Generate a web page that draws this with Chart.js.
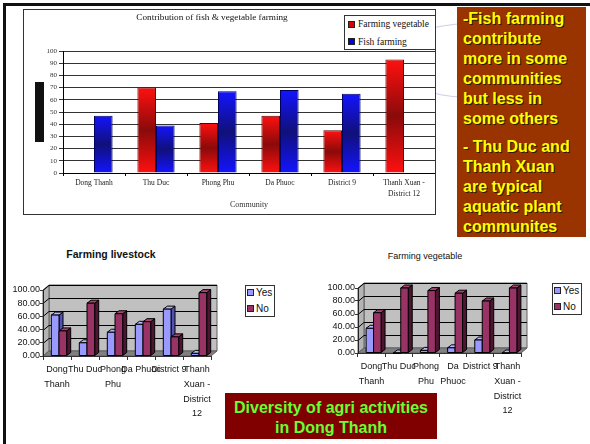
<!DOCTYPE html>
<html lang="en">
  <head>
    <meta charset="utf-8" />
    <title>Diversity of agri activities</title>
    <style>
      * {
        margin: 0;
        padding: 0;
        box-sizing: border-box;
      }
      body {
        width: 590px;
        height: 444px;
        position: relative;
        overflow: hidden;
        background: #fff;
        font-family: "Liberation Sans", Arial, sans-serif;
      }
      .frameTop {
        position: absolute;
        left: 3px;
        top: 3px;
        width: 587px;
        height: 3px;
        background: #111;
      }
      .frameLeft {
        position: absolute;
        left: 3px;
        top: 3px;
        width: 3px;
        height: 441px;
        background: #111;
      }
      .ring {
        position: absolute;
        left: 393px;
        top: 23px;
        width: 154px;
        height: 75px;
        border: 1.5px solid #cfcfe8;
        border-radius: 50%;
      }
      .chartBox {
        position: absolute;
        left: 23px;
        top: 9px;
        width: 413px;
        height: 206px;
        border: 1px solid #333;
        background: #fff;
      }
      .axisBlock {
        position: absolute;
        left: 35px;
        top: 82px;
        width: 9px;
        height: 60px;
        background: #111;
      }
      canvas {
        position: absolute;
      }
      .title {
        position: absolute;
        text-align: center;
        white-space: nowrap;
        color: #111;
      }
      #contribTitle {
        left: 112px;
        top: 12px;
        width: 200px;
        font: 9.2px "Liberation Serif", "Times New Roman", serif;
      }
      #livestockTitle {
        left: 31px;
        top: 248px;
        width: 160px;
        font: bold 10.5px "Liberation Sans", Arial, sans-serif;
      }
      #vegTitle {
        left: 345px;
        top: 251px;
        width: 160px;
        font: 9px "Liberation Sans", Arial, sans-serif;
      }
      .legend {
        position: absolute;
        background: #fff;
        border: 1px solid #333;
        color: #111;
      }
      .legend .item {
        display: flex;
        align-items: center;
        white-space: nowrap;
      }
      .legend .swatch {
        display: inline-block;
        border: 1px solid #222;
      }
      #contribLegend {
        left: 344px;
        top: 15px;
        width: 92px;
        height: 35px;
        padding-left: 3px;
        font: 9.5px "Liberation Serif", "Times New Roman", serif;
      }
      #contribLegend .item {
        height: 17px;
      }
      #contribLegend .item:first-child {
        margin-top: -1px;
        height: 18px;
      }
      #contribLegend .swatch {
        width: 7px;
        height: 7px;
        margin-right: 3px;
      }
      #livestockLegend,
      #vegLegend {
        width: 30px;
        height: 32px;
        padding-left: 1px;
        font: 10px "Liberation Sans", Arial, sans-serif;
      }
      #livestockLegend {
        left: 245px;
        top: 285px;
      }
      #vegLegend {
        left: 552px;
        top: 283px;
      }
      #livestockLegend .item,
      #vegLegend .item {
        height: 16px;
      }
      #livestockLegend .item:first-child,
      #vegLegend .item:first-child {
        margin-top: -2px;
      }
      #livestockLegend .swatch,
      #vegLegend .swatch {
        width: 7px;
        height: 7px;
        margin-right: 2px;
      }
      .note {
        position: absolute;
        left: 457px;
        top: 7px;
        width: 129px;
        height: 230px;
        padding: 2px 0 0 6px;
        background: #993300;
        color: #ffff00;
        font: bold 16px "Liberation Sans", Arial, sans-serif;
        line-height: 20px;
        text-shadow: 1px 1px 0 #2b1a00;
        white-space: nowrap;
      }
      .note p + p {
        margin-top: 8px;
      }
      .caption {
        position: absolute;
        left: 225px;
        top: 393px;
        width: 212px;
        height: 46px;
        padding-top: 5px;
        background: #800000;
        color: #66ff33;
        font: bold 16px "Liberation Sans", Arial, sans-serif;
        line-height: 20px;
        text-align: center;
      }
    </style>
  </head>
  <body>
    <div class="frameTop"></div>
    <div class="frameLeft"></div>
    <div class="ring"></div>

    <div class="chartBox">
      <canvas id="contribChart" width="411" height="204" style="left: 0; top: 0"></canvas>
    </div>
    <div class="axisBlock"></div>
    <div class="title" id="contribTitle">Contribution of fish &amp; vegetable farming</div>
    <div class="legend" id="contribLegend"></div>

    <div class="note">
      <p>-Fish farming<br />contribute<br />more in some<br />communities<br />but less in<br />some others</p>
      <p>- Thu Duc and<br />Thanh Xuan<br />are typical<br />aquatic plant<br />communites</p>
    </div>

    <div class="title" id="livestockTitle">Farming livestock</div>
    <canvas id="livestockChart" width="240" height="160" style="left: 0; top: 280px"></canvas>
    <div class="legend" id="livestockLegend"></div>

    <div class="title" id="vegTitle">Farming vegetable</div>
    <canvas id="vegChart" width="245" height="162" style="left: 300px; top: 278px"></canvas>
    <div class="legend" id="vegLegend"></div>

    <div class="caption">Diversity of agri activities<br />in Dong Thanh</div>

    <script src="https://cdn.jsdelivr.net/npm/chart.js"></script>
    <script>
      // share of each activity (%) per community
      const contribLabels = [
        "Dong Thanh",
        "Thu Duc",
        "Phong Phu",
        "Da Phuoc",
        "District 9",
        ["Thanh Xuan -", "District 12"],
      ];
      const vegetableShare = [0, 70, 41, 47, 35, 93];
      const fishShare = [47, 39, 67, 68, 65, 0];

      const livestockLabels = [
        ["Dong", "Thanh"],
        "Thu Duc",
        ["Phong", "Phu"],
        "Da Phuoc",
        "District 9",
        ["Thanh", "Xuan -", "District", "12"],
      ];
      const livestockYes = [62, 20, 36, 48, 71, 4];
      const livestockNo = [38, 80, 64, 52, 29, 96];

      const vegLabels = [
        ["Dong", "Thanh"],
        "Thu Duc",
        ["Phong", "Phu"],
        ["Da", "Phuoc"],
        "District 9",
        ["Thanh", "Xuan -", "District", "12"],
      ];
      const vegYes = [38, 0, 4, 8, 20, 0];
      const vegNo = [62, 100, 96, 92, 80, 100];

      const serif = "'Liberation Serif', 'Times New Roman', serif";
      const sans = "'Liberation Sans', Arial, sans-serif";

      // vertical light-dark-light fill for each bar
      function barGradient(light, dark) {
        return (c) => {
          const chart = c.chart;
          const y = chart.scales && chart.scales.y;
          if (!y || typeof c.raw !== "number") return light;
          const top = y.getPixelForValue(c.raw);
          const base = y.getPixelForValue(0);
          if (!isFinite(top) || !isFinite(base) || base - top < 1) return light;
          const g = chart.ctx.createLinearGradient(0, top, 0, base);
          g.addColorStop(0, light);
          g.addColorStop(0.5, dark);
          g.addColorStop(1, light);
          return g;
        };
      }

      function buildLegend(id, chart) {
        const box = document.getElementById(id);
        chart.data.datasets.forEach((ds) => {
          const item = document.createElement("div");
          item.className = "item";
          const sw = document.createElement("span");
          sw.className = "swatch";
          sw.style.background = ds.legendColor;
          const txt = document.createElement("span");
          txt.textContent = ds.label;
          item.append(sw, txt);
          box.appendChild(item);
        });
      }

      // ---------- contribution chart ----------
      const contribChart = new Chart(document.getElementById("contribChart"), {
        type: "bar",
        data: {
          labels: contribLabels,
          datasets: [
            {
              label: "Farming vegetable",
              data: vegetableShare,
              backgroundColor: barGradient("#ff1010", "#8a0a0a"),
              borderColor: "#5a0000",
              borderWidth: 1,
              legendColor: "#e00000",
            },
            {
              label: "Fish farming",
              data: fishShare,
              backgroundColor: barGradient("#1414ff", "#10107a"),
              borderColor: "#000060",
              borderWidth: 1,
              legendColor: "#0000e0",
            },
          ],
        },
        options: {
          responsive: false,
          animation: false,
          categoryPercentage: 0.6,
          barPercentage: 1,
          layout: { padding: { top: 41, left: 0, right: 0, bottom: 0 } },
          plugins: { legend: { display: false }, tooltip: { enabled: false } },
          scales: {
            x: {
              afterFit: (s) => {
                s.height = 41;
              },
              grid: { drawOnChartArea: false, tickLength: 3, color: "#000" },
              border: { color: "#000" },
              ticks: {
                color: "#222",
                maxRotation: 0,
                autoSkip: false,
                padding: 2,
                font: { family: serif, size: 7.5, lineHeight: 1.45 },
              },
              title: {
                display: true,
                text: "Community",
                color: "#333",
                padding: { top: 2, bottom: 4 },
                font: { family: serif, size: 8 },
              },
            },
            y: {
              min: 0,
              max: 100,
              afterFit: (s) => {
                s.width = 39;
              },
              grid: { color: "#333", tickLength: 4 },
              border: { color: "#000" },
              ticks: {
                stepSize: 10,
                autoSkip: false,
                color: "#333",
                padding: 2,
                font: { family: serif, size: 7 },
              },
            },
          },
        },
      });
      buildLegend("contribLegend", contribChart);

      // ---------- 3-D column charts ----------
      const WALL_DX = 6,
        WALL_DY = -5;
      const BAR_DX = 4,
        BAR_DY = -3;

      function face(ctx, pts, fill) {
        ctx.beginPath();
        ctx.moveTo(pts[0][0], pts[0][1]);
        pts.slice(1).forEach((p) => ctx.lineTo(p[0], p[1]));
        ctx.closePath();
        ctx.fillStyle = fill;
        ctx.fill();
        ctx.stroke();
      }

      const columns3d = {
        id: "columns3d",
        beforeDraw(chart) {
          const { ctx, chartArea: a, scales } = chart;
          const y = scales.y;
          ctx.save();
          ctx.lineWidth = 1;
          ctx.strokeStyle = "#606060";
          // back wall, side wall, floor
          face(
            ctx,
            [
              [a.left + WALL_DX, a.top + WALL_DY],
              [a.right + WALL_DX, a.top + WALL_DY],
              [a.right + WALL_DX, a.bottom + WALL_DY],
              [a.left + WALL_DX, a.bottom + WALL_DY],
            ],
            "#c0c0c0"
          );
          face(
            ctx,
            [
              [a.left, a.top],
              [a.left + WALL_DX, a.top + WALL_DY],
              [a.left + WALL_DX, a.bottom + WALL_DY],
              [a.left, a.bottom],
            ],
            "#b4b4b4"
          );
          face(
            ctx,
            [
              [a.left, a.bottom],
              [a.left + WALL_DX, a.bottom + WALL_DY],
              [a.right + WALL_DX, a.bottom + WALL_DY],
              [a.right, a.bottom],
            ],
            "#808080"
          );
          // grid lines across side and back walls
          ctx.strokeStyle = "#000";
          y.ticks.forEach((t) => {
            if (t.value === 0) return;
            const py = Math.round(y.getPixelForValue(t.value)) + 0.5;
            ctx.beginPath();
            ctx.moveTo(a.left, py);
            ctx.lineTo(a.left + WALL_DX, py + WALL_DY);
            ctx.lineTo(a.right + WALL_DX, py + WALL_DY);
            ctx.stroke();
          });
          ctx.restore();
        },
        beforeDatasetDraw() {
          return false;
        },
        afterDatasetsDraw(chart) {
          const ctx = chart.ctx;
          ctx.save();
          ctx.lineWidth = 1;
          ctx.strokeStyle = "#000";
          chart.data.labels.forEach((_, i) => {
            chart.data.datasets.forEach((ds, di) => {
              const bar = chart.getDatasetMeta(di).data[i];
              const { x, y, base, width } = bar.getProps(["x", "y", "base", "width"], true);
              const l = x - width / 2 + 2;
              const r = x + width / 2 + 2;
              face(
                ctx,
                [
                  [r, y],
                  [r + BAR_DX, y + BAR_DY],
                  [r + BAR_DX, base + BAR_DY],
                  [r, base],
                ],
                ds.sideColor
              );
              face(
                ctx,
                [
                  [l, y],
                  [l + BAR_DX, y + BAR_DY],
                  [r + BAR_DX, y + BAR_DY],
                  [r, y],
                ],
                ds.topColor
              );
              face(
                ctx,
                [
                  [l, y],
                  [r, y],
                  [r, base],
                  [l, base],
                ],
                ds.backgroundColor
              );
            });
          });
          ctx.restore();
        },
      };

      function columnChart(id, labels, yes, no, axisWidth, pad, xHeight) {
        return new Chart(document.getElementById(id), {
          type: "bar",
          data: {
            labels,
            datasets: [
              {
                label: "Yes",
                data: yes,
                backgroundColor: "#9999ff",
                topColor: "#b8b8ff",
                sideColor: "#5252b0",
                legendColor: "#9999ff",
              },
              {
                label: "No",
                data: no,
                backgroundColor: "#993366",
                topColor: "#a8446f",
                sideColor: "#4e1530",
                legendColor: "#993366",
              },
            ],
          },
          options: {
            responsive: false,
            animation: false,
            categoryPercentage: 0.55,
            barPercentage: 1,
            layout: { padding: pad },
            plugins: { legend: { display: false }, tooltip: { enabled: false } },
            scales: {
              x: {
                afterFit: (s) => {
                  s.height = xHeight;
                },
                grid: { drawOnChartArea: false, tickLength: 4, color: "#333" },
                border: { color: "#333" },
                ticks: {
                  color: "#111",
                  maxRotation: 0,
                  minRotation: 0,
                  autoSkip: false,
                  padding: 2,
                  font: { family: sans, size: 9, lineHeight: 1.65 },
                },
              },
              y: {
                min: 0,
                max: 100,
                afterFit: (s) => {
                  s.width = axisWidth;
                },
                grid: { drawOnChartArea: false, tickLength: 3, color: "#333" },
                border: { color: "#222" },
                ticks: {
                  stepSize: 20,
                  autoSkip: false,
                  color: "#111",
                  padding: 0,
                  font: { family: sans, size: 9 },
                  callback: (v) => v.toFixed(2),
                },
              },
            },
          },
          plugins: [columns3d],
        });
      }

      const livestockChart = columnChart(
        "livestockChart",
        livestockLabels,
        livestockYes,
        livestockNo,
        43,
        { top: 10, right: 29, left: 0, bottom: 0 },
        84
      );
      buildLegend("livestockLegend", livestockChart);

      const vegChart = columnChart(
        "vegChart",
        vegLabels,
        vegYes,
        vegNo,
        58,
        { top: 10, right: 24, left: 0, bottom: 0 },
        87
      );
      buildLegend("vegLegend", vegChart);
    </script>
  </body>
</html>
